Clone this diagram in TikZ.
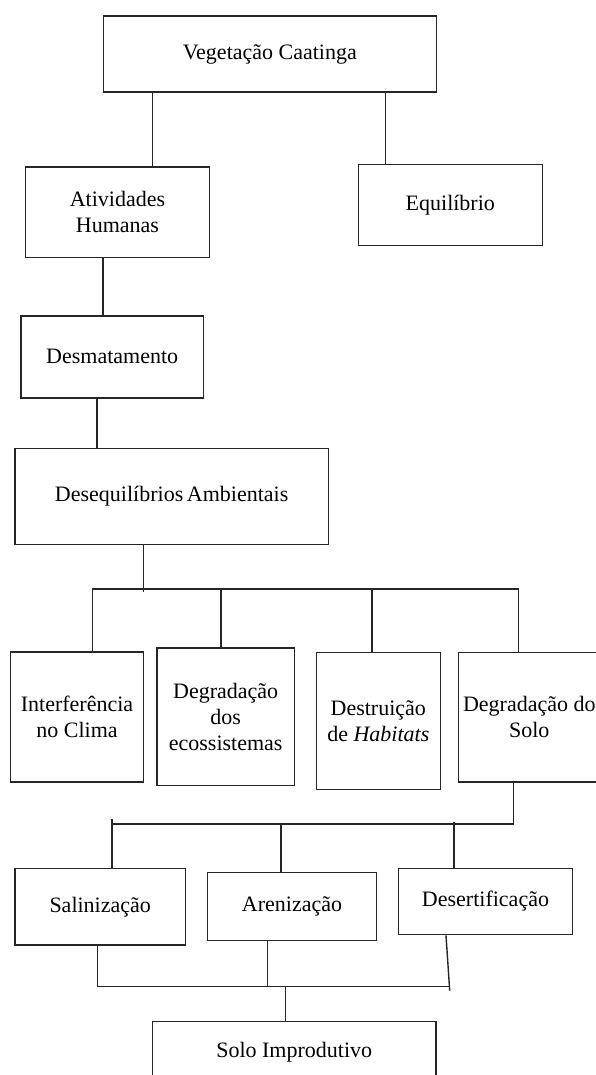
\documentclass[tikz,border=0pt]{standalone}
\usepackage{fontspec}
\setmainfont{Liberation Serif}

\tikzset{
  caixa/.style={draw=black!85, inner sep=0pt, align=center, font=\fontsize{11}{13}\selectfont},
  liga/.style={draw=black!85}
}

\begin{document}
\begin{tikzpicture}[x=0.5pt, y=-0.5pt, line width=0.7pt]
                        \useasboundingbox (0,0) rectangle (595,1075);

                        % Caixas
                        \node [caixa, minimum width=166.5pt, minimum height=37.9pt] (veg) at (269.8,54) {Vegetação Caatinga};
                        \node [caixa, minimum width=91.8pt, minimum height=45.2pt] (atv) at (117.5,212.2) {Atividades\\Humanas};
                        \node [caixa, minimum width=92pt, minimum height=40.7pt] (equ) at (450.3,205) {Equilíbrio};
                        \node [caixa, minimum width=91.2pt, minimum height=40.9pt] (desm) at (112.2,356.9) {Desmatamento};
                        \node [caixa, minimum width=156.7pt, minimum height=48pt] (deseq) at (171.7,496.3) {Desequilíbrios\,Ambientais};
                        \node [caixa, minimum width=66.7pt, minimum height=65pt] (clima) at (77,717) {Interferência\\no Clima};
                        \node [caixa, minimum width=68.7pt, minimum height=68.7pt] (ecos) at (225.7,716.7) {Degradação\\dos\\ecossistemas};
                        \node [caixa, minimum width=62pt, minimum height=68.7pt] (hab) at (378.3,721) {Destruição\\de \textit{Habitats}};
                        \node [caixa, minimum width=70.7pt, minimum height=64.9pt] (solo) at (529.3,717.2) {Degradação do\\Solo};
                        \node [caixa, minimum width=85.2pt, minimum height=38.4pt] (sal) at (100.2,906.7) {Salinização};
                        \node [caixa, minimum width=84.7pt, minimum height=33.8pt] (are) at (292,906.5) {Arenização};
                        \node [caixa, minimum width=86.8pt, minimum height=33.2pt] (des) at (485.5,901.5) {Desertificação};
                        \node [caixa, minimum width=141.9pt, minimum height=30.2pt] (imp) at (294.2,1051.9) {Solo Improdutivo};

                        % Topo
                        \coordinate (xa) at (152.3,0);
                        \coordinate (xb) at (385.3,0);
                        \coordinate (xc) at (103,0);
                        \coordinate (xd) at (97,0);
                        \draw [liga] (veg.south -| xa) -- (atv.north -| xa);
                        \draw [liga] (veg.south -| xb) -- (equ.north -| xb);
                        \draw [liga] (atv.south -| xc) -- (desm.north -| xc);
                        \draw [liga] (desm.south -| xd) -- (deseq.north -| xd);

                        % Primeira barra
                        \coordinate (b1) at (143.7,589);
                        \coordinate (b1p) at (143.7,592.3);
                        \coordinate (xe) at (92.7,0);
                        \coordinate (xf) at (221,0);
                        \coordinate (xg) at (372,0);
                        \coordinate (xh) at (518.3,0);
                        \draw [liga] (deseq.south -| b1) -- (b1p);
                        \draw [liga] (clima.north -| xe) |- (b1) -| (solo.north -| xh);
                        \draw [liga] (b1 -| xf) -- (ecos.north -| xf);
                        \draw [liga] (b1 -| xg) -- (hab.north -| xg);

                        % Segunda barra
                        \coordinate (b2) at (513.7,824);
                        \coordinate (xi) at (112,0);
                        \coordinate (xj) at (281,0);
                        \coordinate (xk) at (454,0);
                        \coordinate (t1) at (112,819);
                        \coordinate (t2) at (454,822);
                        \draw [liga] (solo.south -| b2) -- (b2) -- (b2 -| xi);
                        \draw [liga] (t1) -- (sal.north -| xi);
                        \draw [liga] (b2 -| xj) -- (are.north -| xj);
                        \draw [liga] (t2) -- (des.north -| xk);

                        % Terceira barra
                        \coordinate (b3) at (449.7,986.7);
                        \coordinate (b3p) at (449.7,990.7);
                        \coordinate (xl) at (97.3,0);
                        \coordinate (xm) at (267.3,0);
                        \coordinate (xn) at (446,0);
                        \coordinate (xo) at (285.3,0);
                        \draw [liga] (sal.south -| xl) |- (b3);
                        \draw [liga] (are.south -| xm) -- (b3 -| xm);
                        \draw [liga] (des.south -| xn) -- (b3p);
                        \draw [liga] (b3 -| xo) -- (imp.north -| xo);
                    \end{tikzpicture}
\end{document}
